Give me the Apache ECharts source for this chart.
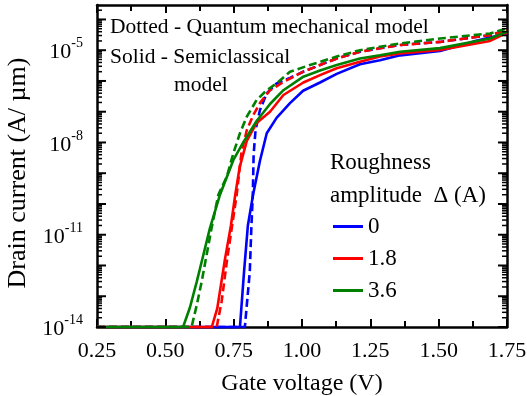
<!DOCTYPE html>
<html>
<head>
<meta charset="utf-8">
<script src="https://cdn.jsdelivr.net/npm/echarts@6/dist/echarts.min.js"></script>
<style>
  html, body { margin: 0; padding: 0; background: #fff; }
  #chart { width: 527px; height: 396px; }
</style>
</head>
<body>
<div id="chart"></div>
<script>
// Axis ticks
const gateVoltageTicks = [0.25, 0.50, 0.75, 1.00, 1.25, 1.50, 1.75];
const currentTickLabels = [1e-14, 1e-11, 1e-8, 1e-5];
const currentMin = 1e-14;
const currentMax = 2.95e-4;

// Roughness amplitudes shown in the legend
const roughnessLevels = ['0', '1.8', '3.6'];

// Semiclassical model (solid), Δ = 0
const vgSc0 = [0.25, 0.773, 0.788, 0.802, 0.821, 0.846, 0.871, 0.907, 0.956, 1.004, 1.066, 1.127, 1.212, 1.285, 1.359, 1.505, 1.626, 1.75];
const idSc0 = [1e-14, 1e-14, 6.3e-13, 2.0e-11, 2.0e-10, 2.5e-9, 2.0e-8, 6.3e-8, 1.9e-7, 4.8e-7, 8.9e-7, 1.7e-6, 3.5e-6, 4.7e-6, 6.8e-6, 9.5e-6, 1.9e-5, 3.5e-5];

// Quantum mechanical model (dotted), Δ = 0
const vgQm0 = [0.25, 0.791, 0.809, 0.815, 0.820, 0.823, 0.830, 0.846, 0.871, 0.907, 0.956, 1.005, 1.066, 1.127, 1.212, 1.285, 1.359, 1.505, 1.688, 1.75];
const idQm0 = [1e-14, 1e-14, 6.3e-13, 2.0e-11, 2.0e-10, 4.0e-9, 2.5e-8, 1.12e-7, 4.0e-7, 8.3e-7, 1.26e-6, 2.0e-6, 3.3e-6, 5.4e-6, 8.9e-6, 1.15e-5, 1.48e-5, 1.86e-5, 3.1e-5, 4.5e-5];

// Semiclassical model (solid), Δ = 1.8
const vgSc18 = [0.25, 0.670, 0.690, 0.718, 0.740, 0.755, 0.772, 0.798, 0.834, 0.883, 0.932, 1.005, 1.066, 1.127, 1.212, 1.285, 1.359, 1.505, 1.688, 1.75];
const idSc18 = [1e-14, 1e-14, 4.0e-14, 1.58e-12, 2.0e-11, 1.78e-10, 1.58e-9, 1.12e-8, 4.3e-8, 1.0e-7, 3.5e-7, 8.9e-7, 1.55e-6, 2.6e-6, 4.2e-6, 6.2e-6, 7.9e-6, 1.02e-5, 2.0e-5, 3.7e-5];

// Quantum mechanical model (dotted), Δ = 1.8
const vgQm18 = [0.25, 0.688, 0.706, 0.725, 0.743, 0.761, 0.779, 0.798, 0.822, 0.846, 0.883, 0.932, 1.005, 1.066, 1.127, 1.212, 1.285, 1.359, 1.505, 1.688, 1.75];
const idQm18 = [1e-14, 1e-14, 6.8e-14, 1.35e-12, 1.66e-11, 2.0e-10, 5.0e-9, 2.5e-8, 7.9e-8, 1.9e-7, 5.0e-7, 9.3e-7, 2.0e-6, 3.3e-6, 5.4e-6, 8.9e-6, 1.15e-5, 1.48e-5, 1.86e-5, 3.1e-5, 4.5e-5];

// Semiclassical model (solid), Δ = 3.6
const vgSc36 = [0.25, 0.565, 0.590, 0.615, 0.639, 0.663, 0.700, 0.749, 0.785, 0.834, 0.883, 0.932, 1.005, 1.066, 1.127, 1.212, 1.285, 1.359, 1.505, 1.688, 1.75];
const idSc36 = [1e-14, 1e-14, 4.3e-14, 3.0e-13, 2.2e-12, 1.62e-11, 2.0e-10, 2.7e-9, 1.0e-8, 5.0e-8, 1.78e-7, 5.0e-7, 1.38e-6, 2.2e-6, 3.3e-6, 5.4e-6, 6.9e-6, 8.9e-6, 1.17e-5, 2.4e-5, 4.0e-5];

// Quantum mechanical model (dotted), Δ = 3.6
const vgQm36 = [0.25, 0.596, 0.615, 0.633, 0.651, 0.669, 0.694, 0.725, 0.749, 0.773, 0.798, 0.834, 0.871, 0.907, 0.956, 1.029, 1.127, 1.212, 1.285, 1.359, 1.505, 1.688, 1.75];
const idQm36 = [1e-14, 1e-14, 5.2e-14, 3.0e-13, 2.2e-12, 1.62e-11, 2.0e-10, 7.8e-10, 4.5e-9, 2.0e-8, 6.9e-8, 2.4e-7, 5.0e-7, 8.3e-7, 2.0e-6, 3.3e-6, 6.2e-6, 1.0e-5, 1.29e-5, 1.66e-5, 2.4e-5, 3.5e-5, 5.1e-5];

const FONT = '"Liberation Serif", "Times New Roman", serif';
const BLUE = '#0000ff', RED = '#ff0000', GREEN = '#008000';

const pairs = (xs, ys) => xs.map((x, i) => [x, ys[i]]);

// Decade (10^n) and sub-decade (k·10^n) tick values of the current axis
const decadeTicks = [];
const subDecadeTicks = [];
for (let e = -14; e <= -4; e++) {
  decadeTicks.push(Number('1e' + e));
  for (let k = 2; k <= 9; k++) {
    const v = Number(k + 'e' + e);
    if (v <= currentMax) subDecadeTicks.push(v);
  }
}

function curve(name, xs, ys, color, dashed) {
  return {
    type: 'line',
    name: name,
    data: pairs(xs, ys),
    yAxisIndex: 0,
    showSymbol: false,
    symbol: 'none',
    clip: false,
    color: color,
    itemStyle: { color: color },
    lineStyle: { color: color, width: 2.6, type: dashed ? [8, 4] : 'solid', cap: 'butt' },
    emphasis: { disabled: true },
    animation: false
  };
}

function currentAxis(position, labels) {
  const ax = {
    type: 'log',
    logBase: 10,
    position: position,
    min: currentMin,
    max: currentMax,
    axisLine: { show: true, lineStyle: { color: '#000', width: 2.5 } },
    axisTick: { show: false },
    axisLabel: { show: false },
    splitLine: { show: false }
  };
  if (labels) {
    ax.axisLabel = {
      show: true,
      customValues: labels,
      margin: 14,
      formatter: v => '{b|10}{s|' + Math.round(Math.log10(v)) + '}',
      rich: {
        b: { fontFamily: FONT, fontSize: 22, color: '#000', verticalAlign: 'bottom', lineHeight: 27 },
        s: { fontFamily: FONT, fontSize: 14, color: '#000', verticalAlign: 'top', lineHeight: 14 }
      }
    };
    ax.name = 'Drain current (A/ \u00b5m)';
    ax.nameLocation = 'middle';
    ax.nameGap = 62;
    ax.nameTextStyle = { fontFamily: FONT, fontSize: 26, color: '#000', padding: [0, 14, 0, 0] };
  }
  return ax;
}

function voltageAxis(position, labels) {
  return {
    type: 'value',
    position: position,
    min: gateVoltageTicks[0],
    max: gateVoltageTicks[gateVoltageTicks.length - 1],
    interval: 0.25,
    axisLine: { show: true, lineStyle: { color: '#000', width: 2.5 } },
    axisTick: { show: true, inside: true, length: 8, lineStyle: { color: '#000', width: 2 } },
    minorTick: { show: true, splitNumber: 2, length: 6, lineStyle: { color: '#000', width: 2 } },
    axisLabel: labels ? {
      show: true, margin: 13, fontFamily: FONT, fontSize: 22, color: '#000',
      formatter: v => v.toFixed(2)
    } : { show: false },
    splitLine: { show: false },
    name: labels ? 'Gate voltage (V)' : '',
    nameLocation: 'middle',
    nameGap: 45,
    nameTextStyle: { fontFamily: FONT, fontSize: 24, color: '#000' }
  };
}

function note(text, left, top, size) {
  return {
    text: text, left: left, top: top, padding: 0, itemGap: 0,
    textStyle: { fontFamily: FONT, fontSize: size, fontWeight: 'normal', color: '#000', lineHeight: size }
  };
}

const chart = echarts.init(document.getElementById('chart'), null, { renderer: 'canvas' });

chart.setOption({
  backgroundColor: '#fff',
  animation: false,
  grid: { left: 97, right: 20, top: 5, bottom: 69, containLabel: false, outerBoundsMode: 'none' },
  xAxis: [voltageAxis('bottom', true), voltageAxis('top', false)],
  yAxis: [currentAxis('left', currentTickLabels), currentAxis('right', null)],
  title: [
    note('Dotted - Quantum mechanical model', 110, 17, 21.5),
    note('Solid - Semiclassical', 110, 47, 21.5),
    note('model', 174, 75, 21.5),
    note('Roughness', 330, 151, 23),
    note('amplitude  \u0394 (A)', 330, 184, 23)
  ],
  legend: {
    data: roughnessLevels,
    orient: 'vertical',
    left: 328,
    top: 210,
    icon: 'rect',
    itemWidth: 30,
    itemHeight: 3,
    itemGap: 9,
    selectedMode: false,
    textStyle: { fontFamily: FONT, fontSize: 23, color: '#000' }
  },
  series: [
    curve(roughnessLevels[0], vgSc0, idSc0, BLUE, false),
    curve('QM ' + roughnessLevels[0], vgQm0, idQm0, BLUE, true),
    curve(roughnessLevels[1], vgSc18, idSc18, RED, false),
    curve('QM ' + roughnessLevels[1], vgQm18, idQm18, RED, true),
    curve(roughnessLevels[2], vgSc36, idSc36, GREEN, false),
    curve('QM ' + roughnessLevels[2], vgQm36, idQm36, GREEN, true)
  ]
});

// Inward marks on both vertical frame edges, placed through the log axis scale
const xLeft = chart.convertToPixel({ xAxisIndex: 0 }, gateVoltageTicks[0]);
const xRight = chart.convertToPixel({ xAxisIndex: 0 }, gateVoltageTicks[gateVoltageTicks.length - 1]);
const tickMarks = [];
function addMarks(values, len, width) {
  values.forEach(v => {
    const y = chart.convertToPixel({ yAxisIndex: 0 }, v);
    const st = { stroke: '#000', lineWidth: width };
    tickMarks.push({ type: 'line', silent: true, z: 10, shape: { x1: xLeft, y1: y, x2: xLeft + len, y2: y }, style: st });
    tickMarks.push({ type: 'line', silent: true, z: 10, shape: { x1: xRight, y1: y, x2: xRight - len, y2: y }, style: st });
  });
}
addMarks(decadeTicks, 9, 2);
addMarks(subDecadeTicks, 5, 1.5);
chart.setOption({ graphic: { elements: tickMarks } });
</script>
</body>
</html>
